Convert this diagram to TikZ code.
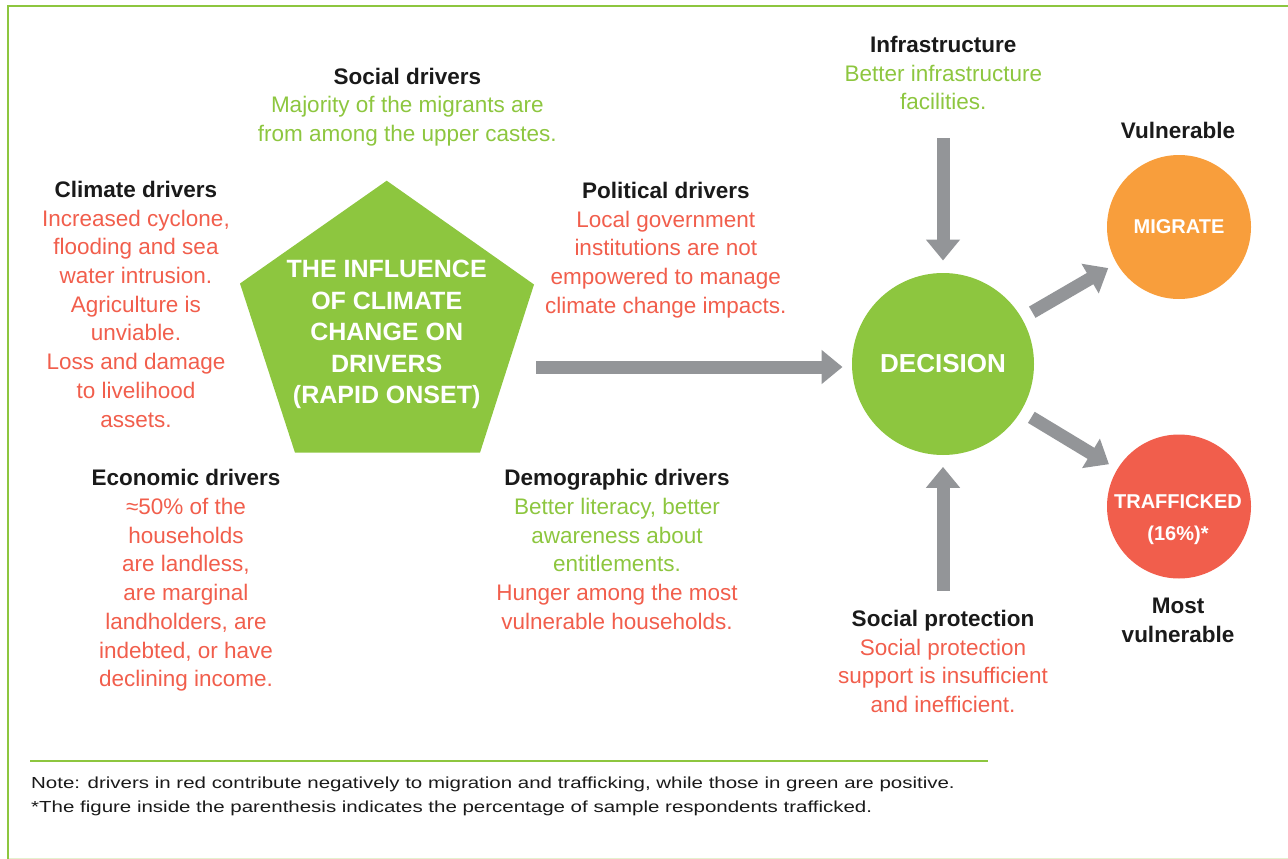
\documentclass[tikz,border=0pt]{standalone}
\usepackage{fontspec}
\setmainfont{Liberation Sans}
\newfontfamily\notefont[FakeStretch=1.28]{Liberation Sans}
\usetikzlibrary{arrows.meta}
\definecolor{cgreen}{HTML}{8DC63F}
\definecolor{cred}{HTML}{F15E4C}
\definecolor{corange}{HTML}{F89E3C}
\definecolor{cgray}{HTML}{939598}
\definecolor{clight}{HTML}{E4F1CE}
\definecolor{cblack}{HTML}{1A1A1A}
\newcommand{\redln}[1]{\textcolor{cred}{#1}}
\newcommand{\grnln}[1]{\textcolor{cgreen}{#1}}
\newcommand{\hdr}[1]{\strut\textbf{#1}}
\begin{document}
\begin{tikzpicture}[x=1pt,y=-1pt,
  blk/.style={anchor=north,align=center,inner sep=0pt,text=cblack,font=\fontsize{22.5}{28.7}\selectfont},
  bigarrow/.style={draw=cgray,line width=13pt,-{Triangle[width=33pt,length=21pt]}},
  bubble/.style={circle,inner sep=0pt,text=white},
  whitetxt/.style={anchor=north,align=center,inner sep=0pt,text=white}
]
\useasboundingbox (0,0) rectangle (1288,859);
% frame
\draw[clight, line width=1.6pt] (7.8,858.3) -- (1292,858.3);
\draw[cgreen, line width=2.4pt] (1292,6.2) -- (7.8,6.2) -- (7.8,862);
% separator
\draw[cgreen, line width=1.6pt] (30,760.7) -- (988,760.7);

% pentagon
\fill[cgreen] (386.7,180.7) -- (534,284.5) -- (480,452.7) -- (295,452.7) -- (240,283.5) -- cycle;
\node[whitetxt, font=\fontsize{25}{31.5}\selectfont\bfseries] (pent) at (386.7,255.25)
  {\strut THE INFLUENCE\\OF CLIMATE\\CHANGE ON\\DRIVERS\\(RAPID ONSET)};

% circles
\node[bubble, fill=cgreen, minimum size=182pt, font=\fontsize{26}{30}\selectfont\bfseries] (decision) at (943,364) {DECISION};
\node[bubble, fill=corange, minimum size=144pt, font=\fontsize{20}{24}\selectfont\bfseries] (migrate) at (1179,227) {MIGRATE};
\node[bubble, fill=cred, minimum size=144pt] (trafficked) at (1179,506.5) {};
\node[whitetxt, font=\fontsize{20}{31.7}\selectfont\bfseries] (traftext) at (1178,486.1) {\strut TRAFFICKED\\(16\%)*};

% arrows
\coordinate (hstart) at (536,367);
\coordinate (istart) at (943,138);
\coordinate (sstart) at (943,590.7);
\draw[bigarrow, shorten >=9.3pt] (hstart) -- (hstart -| decision.west);
\draw[bigarrow, shorten >=12.3pt] (istart) -- (decision.north);
\draw[bigarrow, shorten >=11.7pt] (sstart) -- (decision.south);
\draw[bigarrow, shorten <=12pt, shorten >=9.6pt] (decision) -- (migrate);
\draw[bigarrow, shorten <=12pt, shorten >=9.6pt] (decision) -- (trafficked);

% text blocks
\node[blk] (social) at (407.3,63.9) {\hdr{Social drivers}\\
  \grnln{Majority of the migrants are}\\
  \grnln{from among the upper castes.}};
\node[blk] (climate) at (136,177.2) {\hdr{Climate drivers}\\
  \redln{Increased cyclone,}\\
  \redln{flooding and sea}\\
  \redln{water intrusion.}\\
  \redln{Agriculture is}\\
  \redln{unviable.}\\
  \redln{Loss and damage}\\
  \redln{to livelihood}\\
  \redln{assets.}};
\node[blk] (political) at (665.8,178.2) {\hdr{Political drivers}\\
  \redln{Local government}\\
  \redln{institutions are not}\\
  \redln{empowered to manage}\\
  \redln{climate change impacts.}};
\node[blk] (economic) at (186,465.6) {\hdr{Economic drivers}\\
  \redln{≈50\% of the}\\
  \redln{households}\\
  \redln{are landless,}\\
  \redln{are marginal}\\
  \redln{landholders, are}\\
  \redln{indebted, or have}\\
  \redln{declining income.}};
\node[blk] (demographic) at (617,465.6) {\hdr{Demographic drivers}\\
  \grnln{Better literacy, better}\\
  \grnln{awareness about}\\
  \grnln{entitlements.}\\
  \redln{Hunger among the most}\\
  \redln{vulnerable households.}};
\node[blk] (infra) at (943.3,32.2) {\hdr{Infrastructure}\\
  \grnln{Better infrastructure}\\
  \grnln{facilities.}};
\node[blk] (protection) at (943,606.3) {\hdr{Social protection}\\
  \redln{Social protection}\\
  \redln{support is insufficient}\\
  \redln{and inefficient.}};
\node[blk] (vuln) at (1178,118.2) {\hdr{Vulnerable}};
\node[blk] (mostvuln) at (1178,593.2) {\hdr{Most}\\\textbf{vulnerable}};

% note
\node[anchor=north west, align=left, inner sep=0pt, text=cblack,
  font=\notefont\fontsize{16}{24.5}\selectfont] (note) at (31,770.85)
  {\strut Note: drivers in red contribute negatively to migration and trafficking, while those in green are positive.\\{}*The figure inside the parenthesis indicates the percentage of sample respondents trafficked.};
\end{tikzpicture}
\end{document}
